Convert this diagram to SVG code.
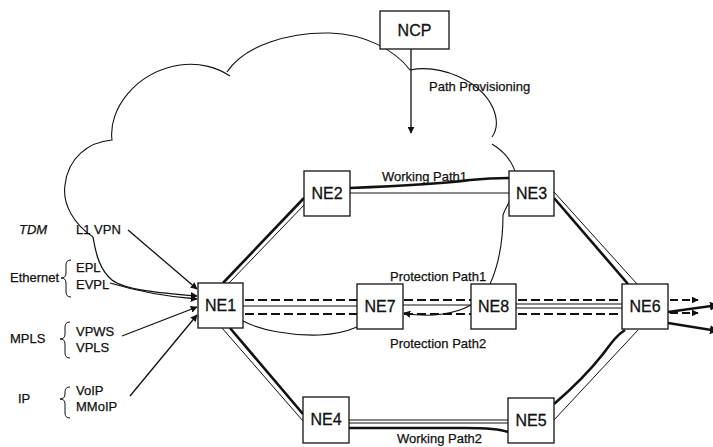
<svg xmlns="http://www.w3.org/2000/svg" width="713" height="447" viewBox="0 0 713 447">
<style>
  .box rect { fill: #fff; stroke: #111; stroke-width: 1.3; }
  .box text { font-family: "Liberation Sans", Arial, sans-serif; font-size: 16px; fill: #111; stroke: #111; stroke-width: 0.3; text-anchor: middle; }
  .lbl { font-family: "Liberation Sans", Arial, sans-serif; font-size: 13px; fill: #111; stroke: #111; stroke-width: 0.25; }
  .cloud { fill: none; stroke: #111; stroke-width: 1.1; }
  .thin { fill: none; stroke: #111; stroke-width: 1; }
  .thick { fill: none; stroke: #111; stroke-width: 2.6; }
  .dash { fill: none; stroke: #111; stroke-width: 1.8; stroke-dasharray: 9 4; }
  .arr { fill: none; stroke: #111; stroke-width: 1.3; marker-end: url(#ah); }
  .brace { fill: none; stroke: #111; stroke-width: 1; }
</style>
<defs>
  <marker id="ah" viewBox="0 0 10 10" refX="9" refY="5" markerWidth="7" markerHeight="7" markerUnits="userSpaceOnUse" orient="auto">
    <path d="M0,0 L10,5 L0,10 Z" fill="#111"/>
  </marker>
  <marker id="ahb" viewBox="0 0 10 10" refX="9" refY="5" markerWidth="9" markerHeight="9" markerUnits="userSpaceOnUse" orient="auto">
    <path d="M0,0 L10,5 L0,10 Z" fill="#111"/>
  </marker>
</defs>

<g id="cloud">
  <path class="cloud" d="M93,237 C75,225 62,205 65,185 C68,158 88,142 112,140 C108,110 135,72 180,65 C200,62 218,68 230,76 M227,72 C245,45 290,32 330,33 C365,34 395,50 410,70 C440,64 480,80 493,108 C498,120 497,130 492,137 M492,144 C505,152 513,162 516,175 C518,192 506,205 503,215 C503,240 500,262 490,284"/>
  <path class="cloud" d="M243,321 C260,330 290,336 320,335 C340,334 350,330 357,327"/>
  <path class="cloud" d="M471,305 C455,314 430,318 404,313" style="marker-end:url(#ah)"/>
</g>

<g id="connectors">
  <!-- NCP provisioning -->
  <line class="arr" x1="411" y1="49" x2="411" y2="133"/>
  <!-- service inputs -->
  <path class="arr" d="M93,237 C96,255 100,270 112,280 C125,290 160,293 197,296"/>
  <path class="arr" d="M110,283 C140,292 170,297 197,299"/>
  <line class="arr" x1="128" y1="230" x2="197" y2="289"/>
  <line class="arr" x1="122" y1="336" x2="197" y2="307"/>
  <line class="arr" x1="130" y1="396" x2="197" y2="315"/>
  <!-- Working path 1 -->
  <line class="thick" x1="223" y1="283" x2="304" y2="198"/>
  <line class="thin" x1="229" y1="283" x2="306" y2="203"/>
  <path class="thick" d="M350,188 C400,186 440,184 470,180 C490,178 500,178 509,178"/>
  <line class="thin" x1="350" y1="193" x2="509" y2="193"/>
  <line class="thick" x1="554" y1="198" x2="628" y2="284"/>
  <line class="thin" x1="554" y1="192" x2="637" y2="284"/>
  <!-- Working path 2 -->
  <line class="thin" x1="222" y1="328" x2="303" y2="421"/>
  <line class="thick" x1="230" y1="328" x2="303" y2="414"/>
  <line class="thin" x1="349" y1="420" x2="508" y2="420"/>
  <line class="thin" x1="349" y1="423" x2="508" y2="423"/>
  <path class="thick" d="M349,428 L465,428 C490,428 500,429 508,432"/>
  <path class="thick" d="M554,404 C575,386 592,368 603,354 C612,342 617,335 625,330"/>
  <line class="thin" x1="554" y1="420" x2="638" y2="330"/>
  <!-- Protection paths -->
  <line class="dash" x1="245" y1="300" x2="357" y2="300"/>
  <line class="dash" x1="245" y1="314" x2="357" y2="314"/>
  <line class="thin" x1="243" y1="306" x2="357" y2="306"/>
  <line class="dash" x1="404" y1="300" x2="471" y2="300"/>
  <line class="dash" x1="404" y1="314" x2="471" y2="314"/>
  <line class="thin" x1="403" y1="305" x2="471" y2="305"/>
  <line class="dash" x1="518" y1="300" x2="622" y2="300"/>
  <line class="dash" x1="518" y1="314" x2="622" y2="314"/>
  <line class="thin" x1="516" y1="304" x2="622" y2="304"/>
  <line class="thin" x1="516" y1="308" x2="622" y2="308"/>
  <!-- Outputs from NE6 -->
  <line class="dash" x1="670" y1="300" x2="698" y2="300" style="marker-end:url(#ah);stroke-dasharray:8 4"/>
  <line class="dash" x1="670" y1="313" x2="698" y2="313" style="marker-end:url(#ah);stroke-dasharray:8 4"/>
  <line class="thick" x1="668" y1="312" x2="718" y2="305" style="marker-end:url(#ahb)"/>
  <line class="thick" x1="668" y1="323" x2="718" y2="331" style="marker-end:url(#ahb)"/>
</g>

<g id="NCP" class="box"><rect x="380" y="11" width="69" height="38"/><text x="414.5" y="36">NCP</text></g>
<g id="NE1" class="box"><rect x="198" y="283" width="45" height="45"/><text x="220.5" y="311">NE1</text></g>
<g id="NE2" class="box"><rect x="304" y="171" width="46" height="45"/><text x="327" y="199">NE2</text></g>
<g id="NE3" class="box"><rect x="509" y="171" width="45" height="45"/><text x="531.5" y="199">NE3</text></g>
<g id="NE4" class="box"><rect x="303" y="397" width="46" height="46"/><text x="326" y="425">NE4</text></g>
<g id="NE5" class="box"><rect x="508" y="398" width="46" height="45"/><text x="531" y="426">NE5</text></g>
<g id="NE6" class="box"><rect x="622" y="284" width="46" height="45"/><text x="645" y="312">NE6</text></g>
<g id="NE7" class="box"><rect x="357" y="284" width="46" height="45"/><text x="380" y="312">NE7</text></g>
<g id="NE8" class="box"><rect x="471" y="284" width="45" height="45"/><text x="493.5" y="312">NE8</text></g>

<g id="labels">
  <text class="lbl" x="429" y="91">Path Provisioning</text>
  <text class="lbl" x="382" y="181">Working Path1</text>
  <text class="lbl" x="390" y="281">Protection Path1</text>
  <text class="lbl" x="390" y="348">Protection Path2</text>
  <text class="lbl" x="397" y="443">Working Path2</text>
  <text class="lbl" x="19" y="234" font-style="italic">TDM</text>
  <text class="lbl" x="76" y="234">L1 VPN</text>
  <text class="lbl" x="10" y="282">Ethernet</text>
  <text class="lbl" x="76" y="272">EPL</text>
  <text class="lbl" x="76" y="289">EVPL</text>
  <text class="lbl" x="10" y="343">MPLS</text>
  <text class="lbl" x="76" y="336">VPWS</text>
  <text class="lbl" x="76" y="352">VPLS</text>
  <text class="lbl" x="18" y="403">IP</text>
  <text class="lbl" x="76" y="395">VoIP</text>
  <text class="lbl" x="76" y="411">MMoIP</text>
  <path class="brace" d="M71,260 Q66,260 66,265 L66,273 Q66,278 61,278 Q66,278 66,283 L66,292 Q66,297 71,297"/>
  <path class="brace" d="M70,322 Q65,322 65,327 L65,334 Q65,339 60,339 Q65,339 65,344 L65,353 Q65,358 70,358"/>
  <path class="brace" d="M70,387 Q65,387 65,392 L65,394 Q65,399 60,399 Q65,399 65,404 L65,413 Q65,418 70,418"/>
</g>
</svg>
